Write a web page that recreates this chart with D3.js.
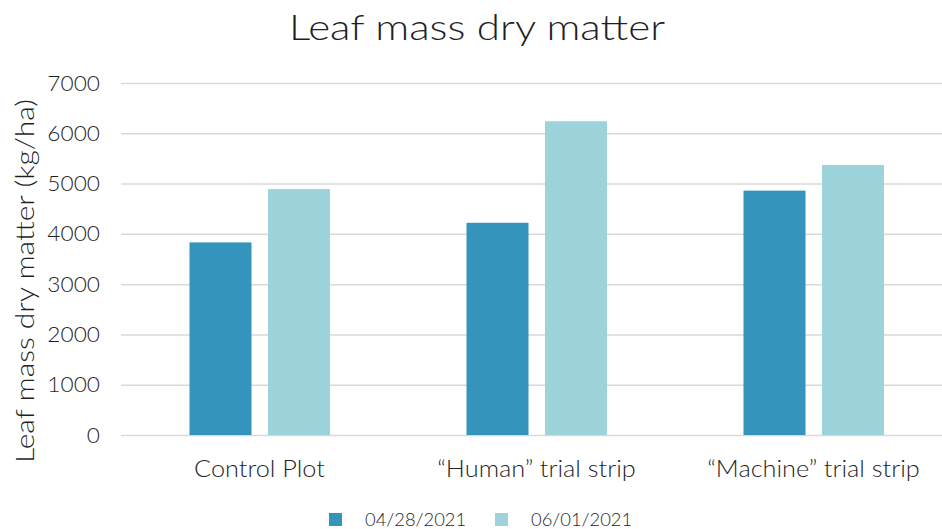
<!doctype html>
<html>
<head>
<meta charset="utf-8">
<style>
  body { margin: 0; background: #fff; }
  svg text { font-family: "Lato", "Noto Sans", sans-serif; font-weight: 300; fill: #1f1f1f; }
  .grid line { stroke: #d9d9d9; stroke-width: 1.5; }
  .grid path { display: none; }
</style>
<script src="https://d3js.org/d3.v7.min.js"></script>
</head>
<body>
<svg width="942" height="529"></svg>
<script>
var categories = ["Control Plot", "\u201cHuman\u201d trial strip", "\u201cMachine\u201d trial strip"];
var seriesNames = ["04/28/2021", "06/01/2021"];
var apr28 = [3830, 4220, 4860];
var jun01 = [4890, 6240, 5370];
var yTicks = [0, 1000, 2000, 3000, 4000, 5000, 6000, 7000];
var colors = ["#3594bb", "#9dd4dc"];

var svg = d3.select("svg");
var seriesValues = [apr28, jun01];

// widen text a little, the original font is broader than Lato
function widen(sel, k) {
    sel.each(function() {
        var w = this.getComputedTextLength();
        d3.select(this).attr("textLength", w * k).attr("lengthAdjust", "spacingAndGlyphs");
    });
}

var x0 = d3.scaleBand().domain(categories).range([121, 952]);
var x1 = d3.scaleBand().domain(seriesNames).range([68.5, 209]).paddingInner(0.21);
var y = d3.scaleLinear().domain([0, 7000]).range([435, 83]);

// gridlines
svg.append("g")
   .attr("class", "grid")
   .attr("transform", "translate(121,0)")
   .call(d3.axisLeft(y).tickValues(yTicks).tickSize(-831).tickFormat(""));

// y tick labels
svg.append("g").selectAll("text")
   .data(yTicks).enter().append("text")
   .attr("x", 100)
   .attr("y", function(d) { return y(d); })
   .attr("dy", "0.36em")
   .attr("text-anchor", "end")
   .attr("font-size", "21px")
   .text(function(d) { return d; })
   .call(widen, 1.08);

// bars
var groups = svg.append("g").selectAll("g")
   .data(categories).enter().append("g")
   .attr("transform", function(d) { return "translate(" + x0(d) + ",0)"; });

groups.selectAll("rect")
   .data(function(d, i) {
       return seriesNames.map(function(s, j) { return { s: s, v: seriesValues[j][i], j: j }; });
   })
   .enter().append("rect")
   .attr("x", function(d) { return x1(d.s); })
   .attr("y", function(d) { return y(d.v); })
   .attr("width", x1.bandwidth())
   .attr("height", function(d) { return y(0) - y(d.v); })
   .attr("fill", function(d) { return colors[d.j]; });

// category labels
svg.append("g").selectAll("text")
   .data(categories).enter().append("text")
   .attr("x", function(d) { return x0(d) + x0.bandwidth() / 2; })
   .attr("y", 477)
   .attr("text-anchor", "middle")
   .attr("font-size", "23px")
   .text(function(d) { return d; })
   .call(widen, 1.1);

// title
svg.append("text")
   .attr("x", 477)
   .attr("y", 40)
   .attr("text-anchor", "middle")
   .attr("font-size", "36px")
   .text("Leaf mass dry matter")
   .call(widen, 1.17);

// y axis title
svg.append("text")
   .attr("transform", "translate(34,281) rotate(-90)")
   .attr("text-anchor", "middle")
   .attr("font-size", "25px")
   .text("Leaf mass dry matter (kg/ha)")
   .call(widen, 1.2);

// legend
var legendX = [329, 495];
var legend = svg.append("g").selectAll("g")
   .data(seriesNames).enter().append("g")
   .attr("transform", function(d, i) { return "translate(" + legendX[i] + ",513)"; });
legend.append("rect")
   .attr("width", 13).attr("height", 13)
   .attr("fill", function(d, i) { return colors[i]; });
legend.append("text")
   .attr("x", 36).attr("y", 7)
   .attr("dy", "0.35em")
   .attr("font-size", "18px")
   .text(function(d) { return d; })
   .call(widen, 1.02);
</script>
</body>
</html>
